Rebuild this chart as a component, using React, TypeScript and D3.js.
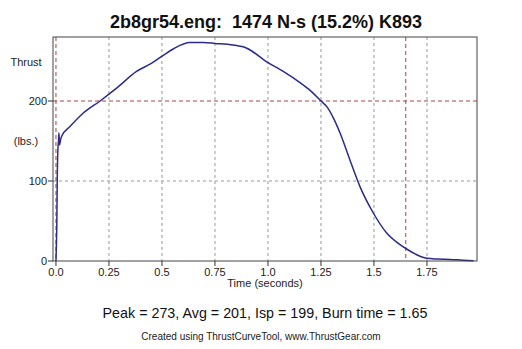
import React from 'react';
import * as d3 from 'd3';

// thrust curve samples: time (s), thrust (lbs)
const times = [0, 0.002, 0.004, 0.006, 0.009, 0.012, 0.014, 0.017, 0.022, 0.027, 0.066, 0.129, 0.208, 0.286, 0.38, 0.45, 0.506, 0.553, 0.632, 0.694, 0.75, 0.836, 0.9, 0.994, 1.072, 1.151, 1.2, 1.25, 1.28, 1.31, 1.34, 1.387, 1.434, 1.497, 1.56, 1.61, 1.654, 1.717, 1.75, 1.8, 1.86, 1.92, 1.97];
const thrust = [0, 20, 45, 101, 139, 150, 160, 145, 152, 156, 168, 185, 200, 216, 237, 247, 257, 265, 273, 273, 272, 270, 266, 249, 237, 223, 213, 200, 192, 178, 160, 126, 93, 60, 35, 23, 15, 6, 3.3, 2.5, 2, 1, 0.4];

const xTicks = [0, 0.25, 0.5, 0.75, 1.0, 1.25, 1.5, 1.75];
const xTickLabels = ['0.0', '0.25', '0.5', '0.75', '1.0', '1.25', '1.5', '1.75'];
const yTicks = [0, 100, 200];
const redX = [0, 1.65];
const redY = [200];

const title = '2b8gr54.eng:  1474 N-s (15.2%) K893';
const stats = 'Peak = 273, Avg = 201, Isp = 199, Burn time = 1.65';
const credit = 'Created using ThrustCurveTool, www.ThrustGear.com';

export default function App() {
  const width = 522;
  const height = 349;
  const left = 53, right = 477, top = 37, bottom = 261;

  const x = d3.scaleLinear().domain([-0.014, 1.986]).range([left, right]);
  const y = d3.scaleLinear().domain([0, 280]).range([bottom, top]);

  const pts: [number, number][] = times.map((t, i) => [t, thrust[i]]);
  const line = d3.line<[number, number]>()
    .x(d => x(d[0]))
    .y(d => y(d[1]))
    .curve(d3.curveMonotoneX);

  const font = 'Liberation Sans, Arial, sans-serif';

  return (
    <svg width={width} height={height} style={{ position: 'absolute', left: 0, top: 0, background: '#fff' }} fontFamily={font}>
      <text x={266} y={28} textAnchor="middle" fontSize={18} fontWeight="bold" fill="#111" style={{ whiteSpace: 'pre' }}>{title}</text>

      {/* gray grid */}
      {xTicks.filter(t => t > 0).map(t => (
        <line key={'gx' + t} x1={x(t)} x2={x(t)} y1={top} y2={bottom} stroke="#999" strokeDasharray="3,3" />
      ))}
      <line x1={left} x2={right} y1={y(100)} y2={y(100)} stroke="#999" strokeDasharray="3,3" />

      {/* red markers */}
      {redX.map(t => (
        <line key={'rx' + t} x1={x(t)} x2={x(t)} y1={top} y2={bottom} stroke="#b04040" strokeDasharray="4,3" />
      ))}
      {redY.map(v => (
        <line key={'ry' + v} x1={left} x2={right} y1={y(v)} y2={y(v)} stroke="#b04040" strokeDasharray="4,3" />
      ))}

      <path d={line(pts) || ''} fill="none" stroke="#2b2b8c" strokeWidth={1.5} />

      <rect x={left} y={top} width={right - left} height={bottom - top} fill="none" stroke="#444" strokeWidth={1} />

      {/* y axis */}
      {yTicks.map(v => (
        <g key={'yt' + v}>
          <line x1={left - 5} x2={left} y1={y(v)} y2={y(v)} stroke="#333" />
          <text x={left - 6} y={y(v) + 4} textAnchor="end" fontSize={11} fill="#222">{v}</text>
        </g>
      ))}
      <text x={26} y={66} textAnchor="middle" fontSize={11} fill="#222">Thrust</text>
      <text x={26} y={145} textAnchor="middle" fontSize={11} fill="#222">(lbs.)</text>

      {/* x axis */}
      {xTicks.map((t, i) => (
        <g key={'xt' + t}>
          <line x1={x(t)} x2={x(t)} y1={bottom} y2={bottom + 5} stroke="#333" />
          <text x={x(t)} y={276} textAnchor="middle" fontSize={11} fill="#222">{xTickLabels[i]}</text>
        </g>
      ))}
      <text x={265} y={287} textAnchor="middle" fontSize={11} fill="#222">Time (seconds)</text>

      <text x={265} y={318} textAnchor="middle" fontSize={14.3} fill="#111">{stats}</text>
      <text x={261} y={340} textAnchor="middle" fontSize={10} fill="#222">{credit}</text>
    </svg>
  );
}
